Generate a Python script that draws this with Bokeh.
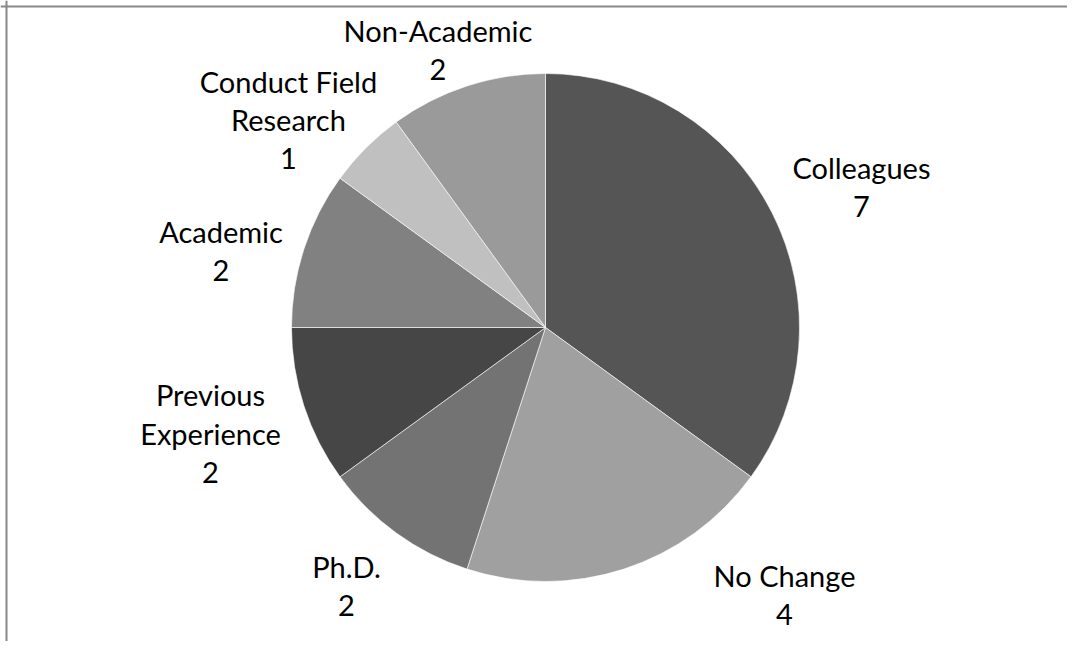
import math
from bokeh.plotting import figure
from bokeh.models import ColumnDataSource, Span
from bokeh.core.properties import value
from bokeh.embed import file_html
from bokeh.resources import INLINE

# ---- data ----
categories = ["Colleagues", "No Change", "Ph.D.", "Previous Experience",
              "Academic", "Conduct Field Research", "Non-Academic"]
counts = [7, 4, 2, 2, 2, 1, 2]
label_texts = ["Colleagues", "No Change", "Ph.D.", "Previous\nExperience",
               "Academic", "Conduct Field\nResearch", "Non-Academic"]

# ---- style / layout ----
colors = ["#555555", "#a0a0a0", "#737373", "#464646", "#818181", "#c0c0c0", "#9a9a9a"]
# label placement: (bearing clockwise from 12 o'clock in degrees, distance in pie radii)
label_layout = [(65.95, 1.362), (138.17, 1.411), (217.65, 1.283), (252.5, 1.383),
                (283.35, 1.313), (308.98, 1.302), (338.83, 1.172)]

W, H = 1067, 641           # fits the 1075x649 window with the page's 8px margin
CX, CY = 545, 327          # pie centre in canvas pixels (from top-left)
R_PX = 254.0               # pie radius in pixels

x0 = -CX / R_PX
x1 = (W - CX) / R_PX
y1 = CY / R_PX
y0 = -(H - CY) / R_PX

total = sum(counts)
starts, ends = [], []
acc = 0
for c in counts:
    starts.append(math.pi / 2 - 2 * math.pi * acc / total)
    acc += c
    ends.append(math.pi / 2 - 2 * math.pi * acc / total)

lx, ly, ltxt = [], [], []
for (bear, dist), t, c in zip(label_layout, label_texts, counts):
    b = math.radians(bear)
    lx.append(dist * math.sin(b))
    ly.append(dist * math.cos(b))
    ltxt.append(f"{t}\n{c}")

src = ColumnDataSource(dict(cat=categories, val=counts, start=starts, end=ends, color=colors))
lsrc = ColumnDataSource(dict(x=lx, y=ly, text=ltxt))

p = figure(width=W, height=H, x_range=(x0, x1), y_range=(y0, y1),
           output_backend="svg", toolbar_location=None, min_border=0)
p.axis.visible = False
p.grid.visible = False
p.outline_line_color = None
p.background_fill_color = "white"
p.border_fill_color = "white"

p.wedge(x=0, y=0, radius=1, start_angle="start", end_angle="end", direction="clock",
        fill_color="color", line_color="white", line_width=1, line_alpha=0.6, source=src)

p.text(x="x", y="y", text="text", source=lsrc, text_align="center", text_baseline="middle",
       text_font=value("Lato"), text_font_size="29px", text_color="black",
       text_line_height=1.09)

# chart-area frame (only left and top edges visible in the window)
p.add_layout(Span(location=x0 + 6.0 / R_PX, dimension="height", line_color="#888888", line_width=2))
p.add_layout(Span(location=y1 - 6.0 / R_PX, dimension="width", line_color="#888888", line_width=2))

open("out.html", "w").write(file_html(p, INLINE))
